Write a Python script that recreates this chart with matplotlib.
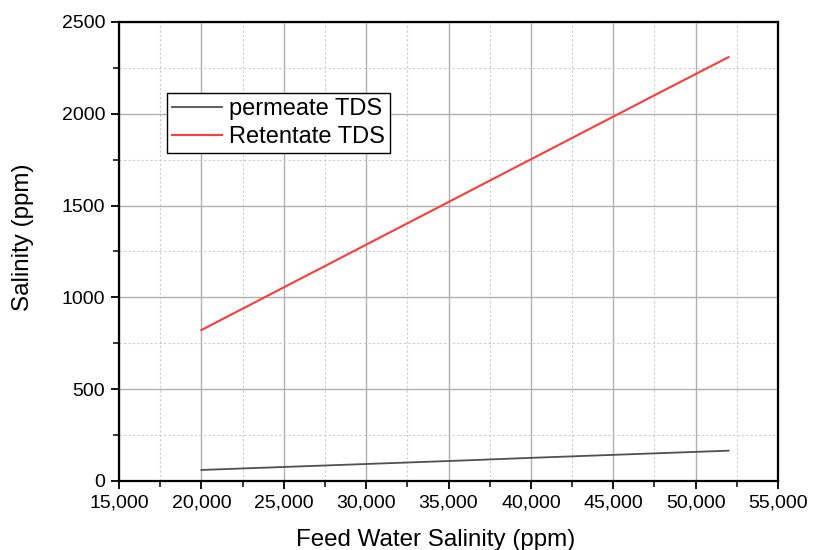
import matplotlib
matplotlib.use('Agg')
import matplotlib.pyplot as plt
from matplotlib.ticker import MultipleLocator, FuncFormatter

plt.rcParams['font.family'] = ['Liberation Sans', 'DejaVu Sans']

# Data
feed_salinity = [20000, 24000, 28000, 32000, 36000, 40000, 44000, 48000, 52000]
permeate_tds = [60, 73, 86, 99, 112, 126, 139, 152, 165]
retentate_tds = [822, 1008, 1194, 1380, 1566, 1752, 1938, 2124, 2309]

fig = plt.figure(figsize=(8.19, 5.5), dpi=100)
ax = fig.add_axes([0.1453, 0.1255, 0.8047, 0.8345])

ax.plot(feed_salinity, permeate_tds, color='#505050', lw=1.3, label='permeate TDS')
ax.plot(feed_salinity, retentate_tds, color='#ff3b3b', lw=1.5, label='Retentate TDS')

ax.set_xlim(15000, 55000)
ax.set_ylim(0, 2500)
ax.xaxis.set_major_locator(MultipleLocator(5000))
ax.xaxis.set_minor_locator(MultipleLocator(2500))
ax.yaxis.set_major_locator(MultipleLocator(500))
ax.yaxis.set_minor_locator(MultipleLocator(250))
ax.xaxis.set_major_formatter(FuncFormatter(lambda v, p: f'{int(v):,}'))

ax.grid(which='major', color='#b0b0b0', lw=1.0, ls='-')
ax.grid(which='minor', color='#cccccc', lw=0.8, ls=(0, (2, 2)))
ax.set_axisbelow(True)

for s in ax.spines.values():
    s.set_linewidth(1.6)
ax.tick_params(which='major', direction='out', length=6, width=1.3, labelsize=14,
               top=False, right=False, pad=4)
ax.tick_params(which='minor', direction='out', length=4, width=1.1,
               top=False, right=False)

ax.set_xlabel('Feed Water Salinity (ppm)', fontsize=17.4, labelpad=12)
ax.set_ylabel('Salinity (ppm)', fontsize=17.4, labelpad=20)
ax.xaxis.label.set_x(0.48)
ax.yaxis.label.set_y(0.532)

leg = ax.legend(loc='upper left', bbox_to_anchor=(0.073, 0.845), borderaxespad=0,
                fontsize=17, frameon=True, fancybox=False, edgecolor='black',
                framealpha=1, handlelength=2.1, handletextpad=0.3,
                labelspacing=0.25, borderpad=0.22)
leg.get_frame().set_linewidth(1.0)

fig.savefig('out.png', dpi=100)
